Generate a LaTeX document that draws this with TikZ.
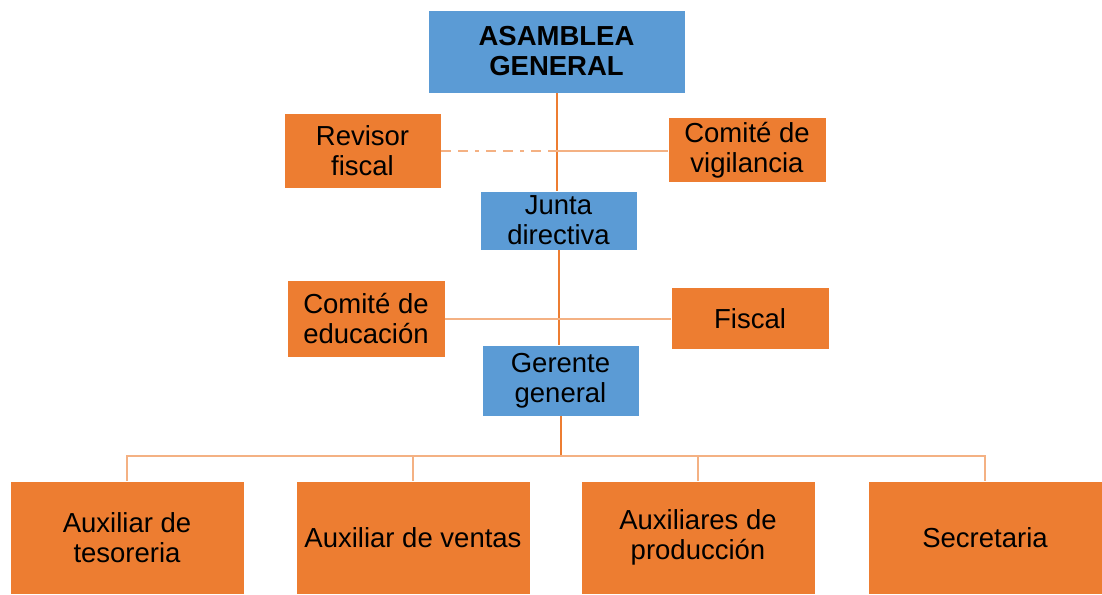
\documentclass[tikz,border=0pt]{standalone}
\usepackage{fontspec}
\setmainfont{Liberation Sans}
\usetikzlibrary{positioning, calc}

\definecolor{azul}{HTML}{5B9BD5}
\definecolor{naranja}{HTML}{ED7D31}
\definecolor{naranjaclaro}{HTML}{F4B183}

\begin{document}
\begin{tikzpicture}[
			x=1pt, y=-1pt,
			font=\fontsize{27.5}{30}\selectfont,
			jefe/.style={draw=white, fill=azul, align=center, inner sep=0pt},
			organo/.style={draw=white, fill=naranja, align=center, inner sep=0pt},
			link/.style={draw=naranja, line width=2pt},
			linkclaro/.style={draw=naranjaclaro, line width=2pt}
		]
		\useasboundingbox (0,0) rectangle (1102,594);

		% Nivel directivo
		\node[jefe, minimum width=257pt, minimum height=83pt, font=\fontsize{27.5}{30}\selectfont\bfseries] (asamblea) at (556.5,51.5) {ASAMBLEA\\GENERAL};
		\node[organo, minimum width=157pt, minimum height=75pt] (revisor) at (362.5,150.5) {Revisor\\fiscal};
		\node[organo, minimum width=158pt, minimum height=65pt] (vigilancia) at (747,150) {Comité de\\vigilancia};
		\node[jefe, minimum width=157pt, minimum height=59pt] (junta) at (558.5,220.5) {Junta\\directiva};

		% Nivel de control
		\node[organo, minimum width=158pt, minimum height=77pt] (educacion) at (366,318.5) {Comité de\\educación};
		\node[organo, minimum width=158pt, minimum height=62pt] (fiscal) at (750,318.5) {Fiscal};
		\node[jefe, minimum width=157pt, minimum height=71pt] (gerente) at (560.5,380.5) {Gerente\\general};

		% Auxiliares
		\node[organo, minimum width=234pt, minimum height=113pt] (aux1) at (127,537.5) {Auxiliar de\\tesoreria};
		\node[organo, minimum width=234pt, minimum height=113pt] (aux2) at (413,537.5) {Auxiliar de ventas};
		\node[organo, minimum width=234pt, minimum height=113pt] (aux3) at (698,537.5) {Auxiliares de\\producción};
		\node[organo, minimum width=234pt, minimum height=113pt] (aux4) at (985,537.5) {Secretaria};

		% Lineas de mando
		\coordinate (cruce1) at (asamblea.south |- revisor.east);
		\draw[link] (asamblea.south) -- (asamblea.south |- junta.north);
		\draw[linkclaro, dash pattern=on 10pt off 7pt on 10pt off 7pt on 4pt off 7pt] (revisor.east) -- (cruce1);
		\draw[linkclaro] (cruce1) -- (cruce1 -| vigilancia.west);
		\draw[link] (junta.south) -- (junta.south |- gerente.north);
		\draw[linkclaro] (educacion.east) -- (fiscal.west);

		\coordinate (bus) at ($(gerente.south)+(0,40)$);
		\draw[link] (gerente.south) -- (bus);
		\foreach \i in {1,...,4} {
				\draw[linkclaro] (bus) -| (aux\i.north);
			}

	\end{tikzpicture}
\end{document}
